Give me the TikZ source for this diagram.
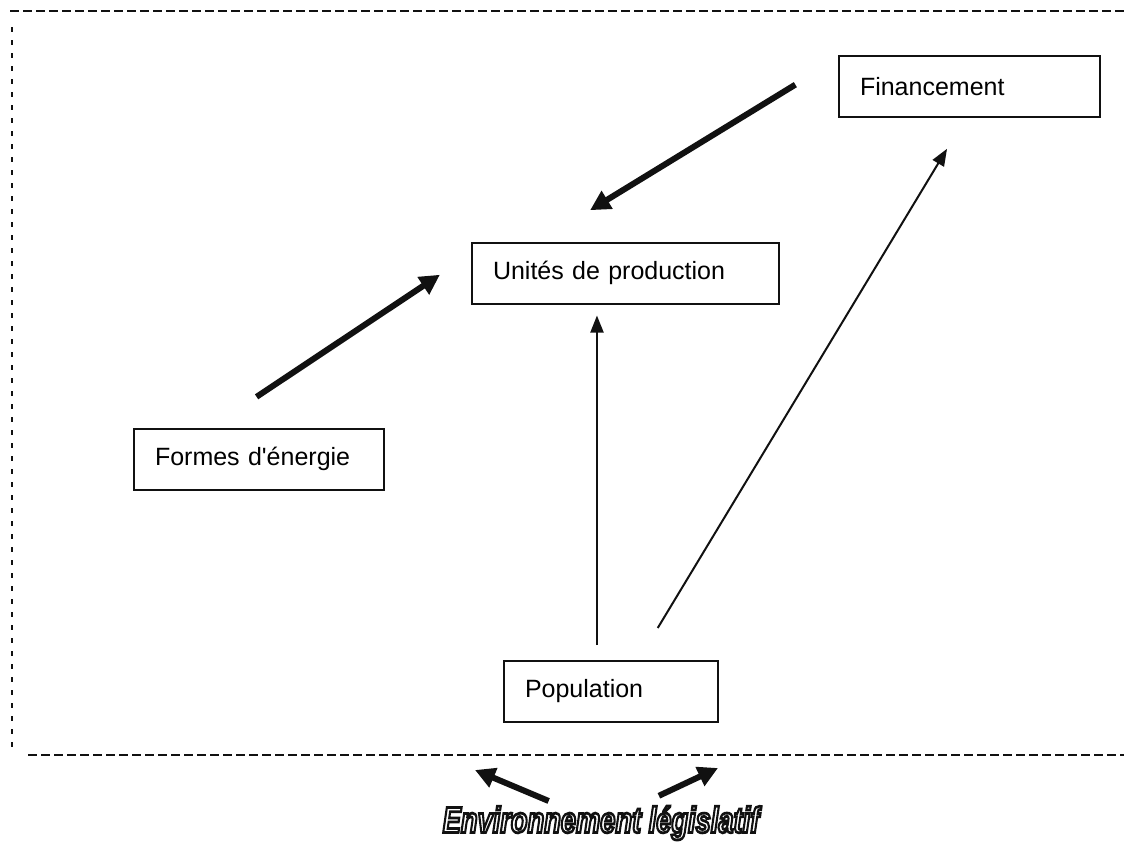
\documentclass[tikz,border=0pt]{standalone}
\usepackage{fontspec}
\setmainfont{Liberation Sans}[Ligatures=TeXOff]
\usetikzlibrary{arrows.meta}
\definecolor{tinta}{HTML}{111111}
\newcommand{\creux}[1]{\special{pdf:literal direct q 2 Tr 1.1 w 0.067 G 1 g}#1\special{pdf:literal direct Q}}
\tikzset{
 boite/.style={draw=tinta,line width=1pt,inner xsep=10.5pt,align=left,minimum height=30.5pt,font=\fontsize{12.5}{15}\selectfont},
 grosse/.style={draw=tinta,line width=3pt,-{Triangle[length=10pt,width=10pt]}},
 fine/.style={draw=tinta,line width=1pt,-{Triangle[length=8.5pt,width=6.5pt]}},
 cadre/.style={draw=tinta,line width=1.2pt,dash pattern=on 4.5pt off 2pt},
}

\begin{document}
\begin{tikzpicture}[x=0.5pt,y=-0.5pt]
\useasboundingbox (0,0) rectangle (1124,847);

% cadre en pointilles
\draw[cadre] (10,11) -- (1124,11);
\draw[cadre,dash pattern=on 2.5pt off 4pt] (12,27) -- (12,753);
\draw[cadre] (28,755) -- (1124,755);

\node[boite,text width=109.5pt] (fin) at (969.5,86.5) {Financement};
\node[boite,text width=132.5pt] (unites) at (625.5,273) {Unités de production};
\node[boite,text width=104pt] (formes) at (259,459) {Formes d'énergie};
\node[boite,text width=86pt] (pop) at (611,691.5) {Population};

\draw[grosse,shorten <=25pt,shorten >=30pt] (fin.168) -- (unites.160);
\draw[grosse,shorten <=27.7pt,shorten >=18.7pt] (formes.147) -- (unites.173);
\draw[fine,shorten <=7.5pt,shorten >=5.5pt] (pop.114) -- (pop.114 |- unites.south);
\draw[fine,shorten <=18.7pt,shorten >=18pt] (pop.49) -- (fin.263);

\node (leg) at (601,823) {\scalebox{0.94}[1.25]{\fontsize{14.5}{16}\selectfont\bfseries\itshape\creux{Environnement législatif}}};
\coordinate (gauche) at (475,770);
\coordinate (droite) at (718,768);
\draw[grosse,shorten <=28.4pt] (leg.center) -- (gauche);
\draw[grosse,shorten <=32pt] (leg.center) -- (droite);
\end{tikzpicture}
\end{document}
